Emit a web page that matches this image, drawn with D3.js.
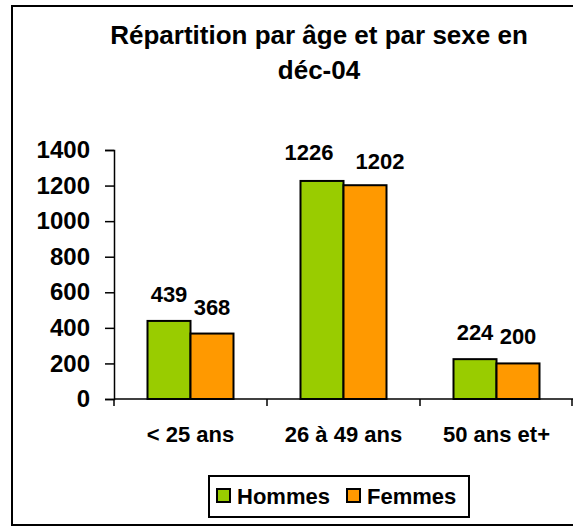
<!DOCTYPE html>
<html>
<head>
<meta charset="utf-8">
<script src="https://cdn.jsdelivr.net/npm/d3@7"></script>
<style>
  body { margin: 0; background: #fff; }
  text { font-family: "Liberation Sans", Arial, sans-serif; font-weight: bold; fill: #000; }
</style>
</head>
<body>
<div id="chart"></div>
<script>
const categories = ['< 25 ans', '26 à 49 ans', '50 ans et+'];
const series     = ['Hommes', 'Femmes'];
const hommes     = [439, 1226, 224];
const femmes     = [368, 1202, 200];
const yTicks     = [0, 200, 400, 600, 800, 1000, 1200, 1400];
const colors     = ['#99CC00', '#FF9900'];

// label nudges (Excel moved the middle pair apart so they don't collide)
const labelDx = [[0, -13, 0], [0, 15, 0]];
const labelDy = [[19, 21, 19], [19, 16, 19]];

const WIDTH  = 573;
const HEIGHT = 527;

const svg = d3.select('#chart').append('svg')
  .attr('width', WIDTH)
  .attr('height', HEIGHT);

// outer frame (right edge falls outside the picture)
svg.append('rect')
  .attr('x', 12).attr('y', 6)
  .attr('width', 580).attr('height', 519)
  .attr('fill', 'none')
  .attr('stroke', '#000')
  .attr('stroke-width', 2);

// title
const title = svg.append('text')
  .attr('text-anchor', 'middle')
  .style('font-size', '26px');
title.append('tspan').attr('x', 319).attr('y', 44).text('Répartition par âge et par sexe en');
title.append('tspan').attr('x', 319).attr('y', 79).text('déc-04');

const x = d3.scaleBand().domain(categories).range([114, 573]).padding(0);
const y = d3.scaleLinear().domain([0, 1400]).range([399, 150]);
const barW = 43;

const yAxis = d3.axisLeft(y)
  .tickValues(yTicks)
  .tickFormat(d3.format('d'))
  .tickSize(9)
  .tickPadding(15);

// x axis: ticks at band edges
const gx = svg.append('g').attr('transform', 'translate(0,399)');
gx.append('line')
  .attr('x1', 114).attr('x2', 573)
  .attr('stroke', '#000').attr('stroke-width', 1.5);
gx.selectAll('line.tk')
  .data(categories.concat(['end']))
  .join('line')
  .attr('class', 'tk')
  .attr('x1', (d, i) => i < categories.length ? x(d) : x.range()[1] - 1)
  .attr('x2', (d, i) => i < categories.length ? x(d) : x.range()[1] - 1)
  .attr('y1', 0).attr('y2', 7)
  .attr('stroke', '#000').attr('stroke-width', 1.5);
gx.selectAll('text.cat')
  .data(categories)
  .join('text')
  .attr('class', 'cat')
  .attr('x', d => x(d) + x.bandwidth() / 2)
  .attr('y', 43)
  .attr('text-anchor', 'middle')
  .style('font-size', '22px')
  .text(d => d);

const gy = svg.append('g')
  .attr('transform', 'translate(114,0)')
  .call(yAxis);
gy.select('.domain').attr('stroke', '#000').attr('stroke-width', 1.5);
gy.selectAll('.tick line').attr('stroke', '#000').attr('stroke-width', 1.5);
gy.selectAll('.tick text')
  .style('font-size', '24px')
  .attr('font-family', null);

// bars
const groups = svg.append('g').selectAll('g')
  .data(categories)
  .join('g')
  .attr('transform', d => 'translate(' + (x(d) + x.bandwidth() / 2 - barW) + ',0)');

[hommes, femmes].forEach((vals, s) => {
  groups.append('rect')
    .attr('x', s * barW)
    .attr('y', (d, i) => y(vals[i]))
    .attr('width', barW)
    .attr('height', (d, i) => y(0) - y(vals[i]))
    .attr('fill', colors[s])
    .attr('stroke', '#000')
    .attr('stroke-width', 2);
  groups.append('text')
    .attr('x', (d, i) => s * barW + barW / 2 + labelDx[s][i])
    .attr('y', (d, i) => y(vals[i]) - labelDy[s][i])
    .attr('text-anchor', 'middle')
    .style('font-size', '22px')
    .text((d, i) => vals[i]);
});

// legend
const legend = svg.append('g');
legend.append('rect')
  .attr('x', 209).attr('y', 476)
  .attr('width', 260).attr('height', 41)
  .attr('fill', '#fff')
  .attr('stroke', '#000')
  .attr('stroke-width', 2);
const legendX = [217, 347];
series.forEach((s, i) => {
  legend.append('rect')
    .attr('x', legendX[i]).attr('y', 489)
    .attr('width', 13).attr('height', 13)
    .attr('fill', colors[i])
    .attr('stroke', '#000')
    .attr('stroke-width', 2);
  legend.append('text')
    .attr('x', legendX[i] + 20).attr('y', 504)
    .style('font-size', '22px')
    .text(s);
});
</script>
</body>
</html>
